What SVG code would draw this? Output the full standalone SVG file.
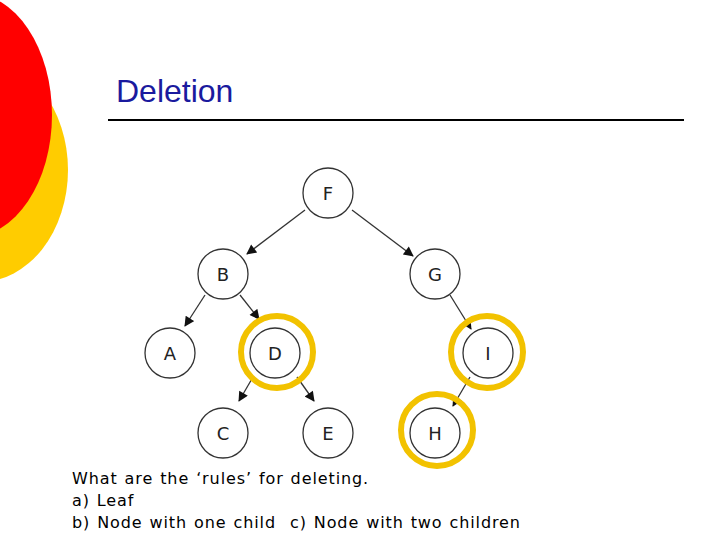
<svg xmlns="http://www.w3.org/2000/svg" width="720" height="540" viewBox="0 0 720 540">
<style>
.n circle{fill:#fff;stroke:#333;stroke-width:1.3}
.n circle.ring{fill:none;stroke:#f2c200;stroke-width:6}
.n text{font-family:"DejaVu Sans",sans-serif;font-size:18px;fill:#222;text-anchor:middle}
.c line{stroke:#333;stroke-width:1.3;marker-end:url(#ah)}
.t{font-family:"DejaVu Sans",sans-serif;font-size:16px;fill:#000;letter-spacing:0.9px;word-spacing:1px}
</style>
<defs><marker id="ah" viewBox="0 0 10 10" refX="9" refY="5" markerWidth="11" markerHeight="10" orient="auto" markerUnits="userSpaceOnUse"><path d="M0,0L10,5L0,10z" fill="#111"/></marker></defs>
<rect width="720" height="540" fill="#fff"/>
<ellipse cx="-20" cy="170" rx="88" ry="112" fill="#ffcc00"/>
<ellipse cx="-30" cy="115" rx="82" ry="122" fill="#ff0000"/>
<text x="116" y="102" font-family="Liberation Sans,Arial,sans-serif" font-size="32" fill="#1a1a9e">Deletion</text>
<line x1="108" y1="120" x2="684" y2="120" stroke="#000" stroke-width="2"/>
<g class="c">
<line x1="305" y1="210" x2="247" y2="254"/>
<line x1="352" y1="210" x2="413" y2="256"/>
<line x1="205" y1="295" x2="185" y2="326"/>
<line x1="240" y1="295" x2="259" y2="319"/>
<line x1="253" y1="377" x2="239" y2="401"/>
<line x1="297" y1="377" x2="314" y2="401"/>
<line x1="450" y1="295" x2="471" y2="329"/>
<line x1="470" y1="377" x2="453" y2="406"/>
</g>
<g id="F" class="n"><circle cx="328" cy="193" r="25"/><text x="328" y="200">F</text></g>
<g id="B" class="n"><circle cx="223" cy="274" r="25"/><text x="223" y="281">B</text></g>
<g id="G" class="n"><circle cx="435" cy="274" r="25"/><text x="435" y="281">G</text></g>
<g id="A" class="n"><circle cx="170" cy="353" r="25"/><text x="170" y="360">A</text></g>
<g id="D" class="n"><circle cx="275" cy="353" r="25"/><text x="275" y="360">D</text><circle class="ring" cx="277" cy="352" r="36"/></g>
<g id="I" class="n"><circle cx="488" cy="353" r="25"/><text x="488" y="360">I</text><circle class="ring" cx="487" cy="352" r="36"/></g>
<g id="C" class="n"><circle cx="223" cy="433" r="25"/><text x="223" y="440">C</text></g>
<g id="E" class="n"><circle cx="328" cy="433" r="25"/><text x="328" y="440">E</text></g>
<g id="H" class="n"><circle cx="435" cy="433" r="25"/><text x="435" y="440">H</text><circle class="ring" cx="437" cy="430" r="36"/></g>
<text class="t" x="72" y="484">What are the ‘rules’ for deleting.</text>
<text class="t" x="72" y="506">a) Leaf</text>
<text class="t" x="72" y="528" xml:space="preserve">b) Node with one child  c) Node with two children</text>
</svg>
